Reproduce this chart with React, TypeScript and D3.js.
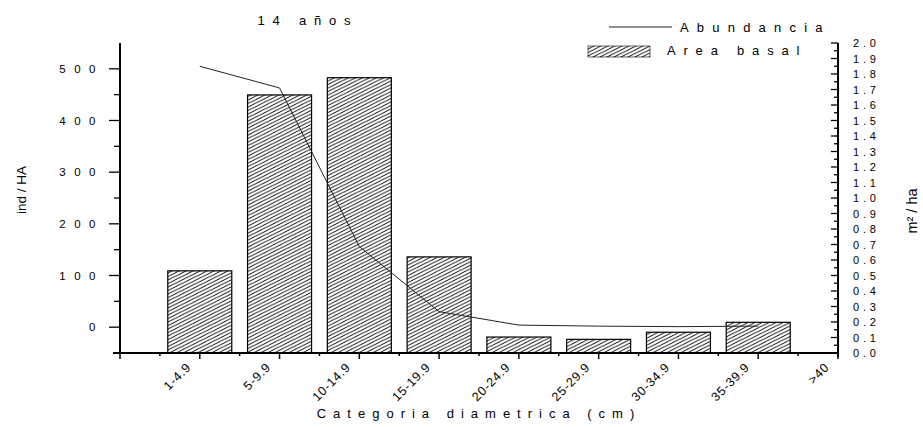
import React from "react";
import * as d3 from "d3";

// diameter classes
const categories = ["1-4.9", "5-9.9", "10-14.9", "15-19.9", "20-24.9", "25-29.9", "30-34.9", "35-39.9", ">40"];
// basal area, m²/ha (bars, right axis)
const areaBasal = [0.53, 1.665, 1.776, 0.62, 0.103, 0.088, 0.134, 0.198];
// abundance, ind/HA (line, left axis)
const abundancia = [505, 463, 156, 30, 4, 2, 1, 2];
const leftTicks = [0, 100, 200, 300, 400, 500];
const leftMinor = [50, 150, 250, 350, 450];

const W = 923;
const H = 427;
const font = "'Liberation Sans', Arial, sans-serif";

const App: React.FC = () => {
  const x = d3.scaleLinear().domain([-1, 8]).range([120, 838]);
  const yL = d3.scaleLinear().domain([-50, 550]).range([353, 43]);
  const yR = d3.scaleLinear().domain([0, 2]).range([353, 43]);
  const bw = 64;

  const rightMajor = yR.ticks(20);
  const rightMinor = yR.ticks(40).filter((t) => !rightMajor.includes(t));
  const xMajor = d3.range(-1, 9);
  const xMinor = xMajor.slice(0, -1).map((d) => d + 0.5);

  const line = d3
    .line<number>()
    .x((_, i) => x(i))
    .y((d) => yL(d));

  return (
    <svg width={W} height={H} style={{ position: "absolute", left: 0, top: 0, background: "#fff" }} fontFamily={font}>
      <defs>
        <pattern id="hatch" patternUnits="userSpaceOnUse" width="7" height="3.5">
          <path d="M-1.4,4.2 L8.4,-0.7" stroke="#000" strokeWidth="0.9" />
          <path d="M-8.4,4.2 L1.4,-0.7" stroke="#000" strokeWidth="0.9" />
          <path d="M5.6,4.2 L15.4,-0.7" stroke="#000" strokeWidth="0.9" />
        </pattern>
      </defs>

      {/* title */}
      <text x={308} y={25} fontSize={13} letterSpacing={7.8} textAnchor="middle">14 años</text>

      {/* bars */}
      {areaBasal.map((v, i) => (
        <rect
          key={categories[i]}
          x={x(i) - bw / 2}
          y={yR(v)}
          width={bw}
          height={yR(0) - yR(v)}
          fill="url(#hatch)"
          stroke="#000"
          strokeWidth={1.2}
        />
      ))}

      {/* abundance line */}
      <path d={line(abundancia) || ""} fill="none" stroke="#222" strokeWidth={1} />

      {/* left axis */}
      <line x1={120} x2={120} y1={43} y2={354} stroke="#000" strokeWidth={2} />
      {leftTicks.map((t) => (
        <g key={t}>
          <line x1={109} x2={120} y1={yL(t)} y2={yL(t)} stroke="#000" strokeWidth={1.3} />
          <text x={104} y={yL(t) + 4} fontSize={11.5} letterSpacing={8.5} textAnchor="end">{t}</text>
        </g>
      ))}
      {leftMinor.map((t) => (
        <line key={t} x1={114} x2={120} y1={yL(t)} y2={yL(t)} stroke="#000" strokeWidth={1.3} />
      ))}
      <text transform={`translate(26,190) rotate(-90)`} fontSize={13.5} textAnchor="middle">ind / HA</text>

      {/* right axis */}
      <line x1={838} x2={838} y1={43} y2={357} stroke="#000" strokeWidth={2} />
      {rightMajor.map((t) => (
        <g key={t}>
          <line x1={831} x2={838} y1={yR(t)} y2={yR(t)} stroke="#000" strokeWidth={1.3} />
          <text x={853} y={yR(t) + 4} fontSize={11} letterSpacing={3.8}>{d3.format(".1f")(t)}</text>
        </g>
      ))}
      {rightMinor.map((t) => (
        <line key={t} x1={834} x2={838} y1={yR(t)} y2={yR(t)} stroke="#000" strokeWidth={1.3} />
      ))}
      <text transform={`translate(917,211) rotate(-90)`} fontSize={14.5} textAnchor="middle">m² / ha</text>

      {/* x axis */}
      <line x1={113} x2={838} y1={353} y2={353} stroke="#000" strokeWidth={2} />
      {xMajor.map((t) => (
        <line key={t} x1={x(t)} x2={x(t)} y1={353} y2={359} stroke="#000" strokeWidth={1.5} />
      ))}
      {xMinor.map((t) => (
        <line key={t} x1={x(t)} x2={x(t)} y1={353} y2={356} stroke="#000" strokeWidth={1.5} />
      ))}
      {categories.map((c, i) => (
        <text
          key={c}
          transform={`translate(${x(i) - 8},${368}) rotate(-45)`}
          fontSize={12.5}
          letterSpacing={0.8}
          textAnchor="end"
        >
          {c}
        </text>
      ))}
      <text x={479} y={418} fontSize={13} letterSpacing={7} textAnchor="middle">Categoria  diametrica  (cm)</text>

      {/* legend */}
      <line x1={609} x2={672} y1={27} y2={27} stroke="#222" strokeWidth={1} />
      <text x={680} y={32} fontSize={13} letterSpacing={8.2}>Abundancia</text>
      <rect x={588} y={46} width={62} height={11} fill="url(#hatch)" stroke="#000" strokeWidth={0.6} />
      <text x={667} y={55} fontSize={13} letterSpacing={7.8}>Area basal</text>
    </svg>
  );
};

export default App;
